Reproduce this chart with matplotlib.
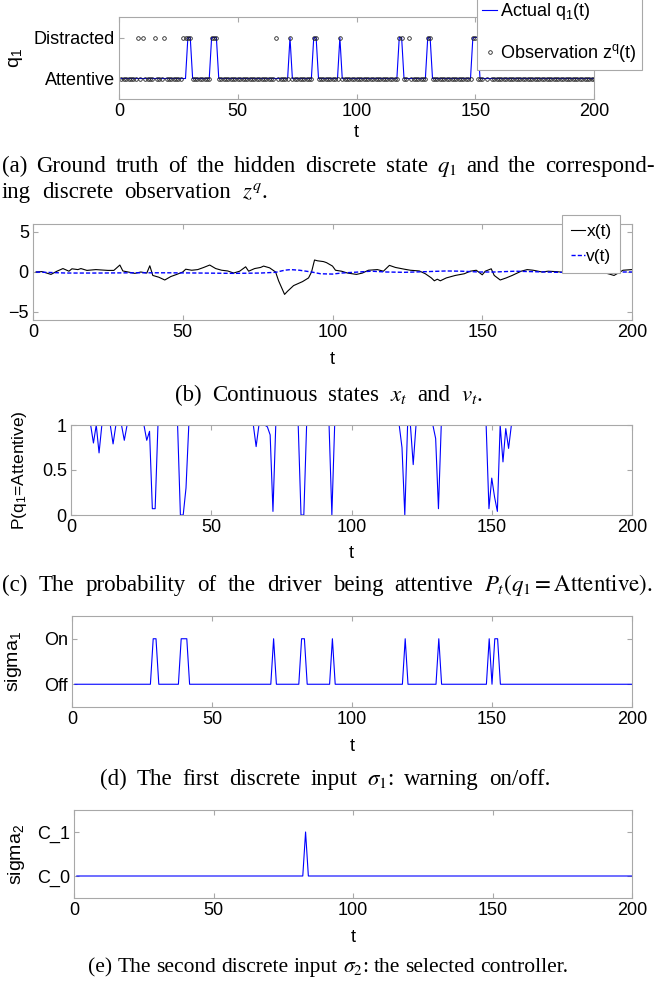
import numpy as np
import matplotlib.pyplot as plt

plt.rcParams['font.family'] = ['Liberation Sans', 'DejaVu Sans']
plt.rcParams['mathtext.fontset'] = 'custom'
plt.rcParams['mathtext.rm'] = 'Liberation Sans'
plt.rcParams['mathtext.it'] = 'Liberation Sans:italic'
plt.rcParams['mathtext.bf'] = 'Liberation Sans:bold'
plt.rcParams['font.size'] = 13

# time axis
t = np.arange(1, 201)

# (a) hidden state q1 (1 = Distracted) and observation z^q
q1_distracted = [29, 30, 39, 40, 41, 72, 82, 83, 93, 118, 119, 130, 131, 149, 150, 151]
obs_distracted = [8, 10, 15, 19, 27, 28, 29, 30, 39, 40, 41, 66, 72, 82, 83, 93,
                  118, 119, 122, 130, 131, 149, 150, 154, 156]

# (b) continuous states
x_t = [1, 3, 6, 8, 10, 12, 13, 15, 16, 18, 21, 25, 27, 29, 30, 34, 36, 38, 39, 40,
       42, 44, 46, 48, 50, 51, 53, 55, 57, 59, 61, 63, 65, 67, 69, 71, 72, 74, 76, 77,
       79, 81, 82, 84, 85, 87, 90, 92, 93, 94, 95, 97, 98, 100, 101, 103, 105, 108, 110, 112,
       115, 117, 119, 121, 124, 126, 129, 131, 133, 134, 135, 136, 138, 141, 144, 146, 148, 150, 151, 153,
       154, 156, 158, 160, 163, 165, 167, 170, 172, 175, 177, 180, 185, 190, 194, 196, 197, 200]
x_val = [0, 0.05, -0.3, 0.1, 0.43, 0.1, 0.4, 0.3, 0.43, 0.2, 0.3, 0.2, 0.2, 0.87, 0.13, -0.17, 0, -0.13, 0.78, -0.43,
         -0.65, -1.0, -0.57, -0.3, 0, 0.35, 0.22, 0.3, 0.57, 0.87, 0.43, 0.22, 0.13, -0.13, 0.1, 0.65, 0.1, 0.43, 0.57, 0.74,
         0.52, 0, -1.1, -2.8, -2.4, -1.7, -1.2, -0.74, 0, 1.5, 1.4, 1.3, 1.17, 0.74, 0.22, 0.1, -0.13, -0.3, -0.13, 0.22,
         0.3, 0.1, 0.83, 0.57, 0.35, 0.22, 0.13, -0.22, -0.74, -1.1, -0.9, -1.1, -0.74, -0.43, -0.22, 0.1, 0.22, -0.35, 0.1, 0.4,
         -0.43, -1.0, -0.74, -0.43, 0.1, 0.3, 0.22, 0, 0.1, 0.04, -0.04, 0.05, 0.0, 0, -0.43, 0, 0.22, 0.3]
v_t = [1, 11, 22, 33, 45, 56, 67, 76, 81, 84, 86, 89, 93, 96, 100, 103, 107, 113, 118, 124,
       131, 138, 143, 149, 154, 161, 167, 175, 186, 200]
v_val = [0, -0.13, -0.13, -0.1, -0.1, -0.13, -0.17, -0.13, -0.04, 0.22, 0.3, 0.22, 0, -0.22, -0.26, -0.13, -0.04, 0.1, 0, -0.04,
         0.04, 0.13, 0.1, 0, 0, 0.1, 0.04, -0.04, 0, 0]

# (c) P(q1 = Attentive), 1 everywhere except these steps
p_dip_t = [8, 10, 15, 19, 27, 28, 29, 30, 39, 40, 41, 66, 70, 71, 72, 82, 83, 93,
           118, 119, 122, 130, 131, 149, 150, 151, 152, 154, 155, 156]
p_dip_val = [0.80, 0.69, 0.79, 0.83, 0.83, 0.93, 0.07, 0.07, 0.0, 0.0, 0.3, 0.76, 0.98, 0.89, 0.04, 0.0, 0.0, 0.0,
             0.75, 0.0, 0.56, 0.85, 0.07, 0.07, 0.41, 0.2, 0.04, 0.59, 0.96, 0.74]

# (d) sigma_1 on, (e) sigma_2 = C_1
sigma1_on = [29, 30, 39, 40, 41, 72, 82, 83, 93, 119, 131, 149, 151, 152]
sigma2_c1 = [83]

q1 = np.zeros(len(t))
q1[np.array(q1_distracted) - 1] = 1
zq = np.zeros(len(t))
zq[np.array(obs_distracted) - 1] = 1
p_att = np.ones(len(t))
p_att[np.array(p_dip_t) - 1] = p_dip_val
s1 = np.zeros(len(t))
s1[np.array(sigma1_on) - 1] = 1
s2 = np.zeros(len(t))
s2[np.array(sigma2_c1) - 1] = 1

W, H = 657, 985
fig = plt.figure(figsize=(W / 100, H / 100), dpi=100)
renderer = fig.canvas.get_renderer()
gray = '#a8a8a8'


def px_axes(l, top, r, b):
    ax = fig.add_axes([l / W, 1 - b / H, (r - l) / W, (b - top) / H])
    for s in ax.spines.values():
        s.set_color(gray)
        s.set_linewidth(0.8)
    ax.tick_params(direction='in', top=True, right=True, length=3.5, color=gray, pad=3)
    ax.set_xlim(0, 200)
    ax.set_xticks([0, 50, 100, 150, 200])
    return ax


def caption(y, words, x0, x1, size=16.5):
    # words spread over [x0, x1] like a justified LaTeX line; y is the text middle
    base = 1 - (y + 0.27 * size) / H
    txts = [fig.text(0, base, w, ha='left', va='baseline', fontsize=size,
                     family='Liberation Serif', math_fontfamily='stix') for w in words]
    widths = [tx.get_window_extent(renderer).width for tx in txts]
    gap = (x1 - x0 - sum(widths)) / max(len(words) - 1, 1)
    x = x0
    for tx, w in zip(txts, widths):
        tx.set_x(x / W)
        x += w + gap


# ---- (a)
ax = px_axes(119, 17, 594, 99)
ax.plot(t, q1, color='#0000ff', lw=0.8, label='Actual q$_1$(t)')
ax.plot(t, zq, 'o', ms=2.6, mfc='none', mec='#222222', mew=0.6, label='Observation z$^{\\rm q}$(t)')
ax.set_ylim(-0.5, 1.5)
ax.set_yticks([0, 1])
ax.set_yticklabels(['Attentive', 'Distracted'])
ax.set_ylabel('q$_1$', fontsize=14)
ax.yaxis.set_label_coords(-0.198, 0.5)
ax.set_xlabel('t')
ax.xaxis.set_label_coords(0.5, -0.31)
leg = ax.legend(loc='upper left', bbox_to_anchor=(477 / W, 1 + 4 / H), bbox_transform=fig.transFigure,
                borderaxespad=0, handlelength=0.8, handletextpad=0.15, labelspacing=1.1,
                fancybox=False, framealpha=1, edgecolor=gray, borderpad=0.3)
leg.get_frame().set_linewidth(0.8)

caption(168, ['(a)', 'Ground', 'truth', 'of', 'the', 'hidden', 'discrete', 'state', '$q_1$',
              'and', 'the', 'correspond-'], 2, 655)
caption(194, ['ing', 'discrete', 'observation', '$z^q$.'], 2, 268)

# ---- (b)
ax = px_axes(33, 224, 632, 320)
ax.plot(x_t, x_val, color='black', lw=0.8, label='x(t)')
ax.plot(v_t, v_val, color='#0000ff', lw=1.0, dashes=(3, 1.5), label='v(t)')
ax.set_ylim(-6, 6)
ax.set_yticks([-5, 0, 5])
ax.set_xlabel('t')
ax.xaxis.set_label_coords(0.5, -0.32)
leg = ax.legend(loc='upper left', bbox_to_anchor=(562 / W, 1 - 215 / H), bbox_transform=fig.transFigure,
                borderaxespad=0, handlelength=0.8, handletextpad=0.1, labelspacing=0.6,
                fancybox=False, framealpha=1, edgecolor=gray, borderpad=0.5, fontsize=12.5)
leg.get_frame().set_linewidth(0.8)

caption(397, ['(b)', 'Continuous', 'states', '$x_t$', 'and', '$v_t$.'], 175, 483)

# ---- (c)
ax = px_axes(71, 425, 632, 515)
ax.plot(t, p_att, color='#0000ff', lw=0.8)
ax.set_ylim(0, 1)
ax.set_yticks([0, 0.5, 1])
ax.set_yticklabels(['0', '0.5', '1'])
ax.set_ylabel('P(q$_1$=Attentive)', fontsize=12.6)
ax.yaxis.set_label_coords(-0.075, 0.5)
ax.set_xlabel('t')
ax.xaxis.set_label_coords(0.5, -0.33)

caption(587, ['(c)', 'The', 'probability', 'of', 'the', 'driver', 'being', 'attentive',
              '$P_t(q_1 = \\mathrm{Attentive})$.'], 2, 653)

# ---- (d)
ax = px_axes(72, 616, 632, 707)
ax.plot(t, s1, color='#0000ff', lw=0.8)
ax.set_ylim(-0.5, 1.5)
ax.set_yticks([0, 1])
ax.set_yticklabels(['Off', 'On'])
ax.set_ylabel('sigma$_1$', fontsize=14)
ax.yaxis.set_label_coords(-0.085, 0.5)
ax.set_xlabel('t')
ax.xaxis.set_label_coords(0.5, -0.34)

caption(781, ['(d)', 'The', 'first', 'discrete', 'input', '$\\sigma_1$:', 'warning', 'on/off.'], 100, 550)

# ---- (e)
ax = px_axes(74, 810, 632, 898)
ax.plot(t, s2, color='#0000ff', lw=0.8)
ax.set_ylim(-0.5, 1.5)
ax.set_yticks([0, 1])
ax.set_yticklabels(['C_0', 'C_1'])
ax.set_ylabel('sigma$_2$', fontsize=14)
ax.yaxis.set_label_coords(-0.085, 0.5)
ax.set_xlabel('t')
ax.xaxis.set_label_coords(0.5, -0.35)

caption(968, ['(e)', 'The', 'second', 'discrete', 'input', '$\\sigma_2$:', 'the', 'selected',
              'controller.'], 88, 568, size=15.5)

fig.savefig('out.png', dpi=100)
